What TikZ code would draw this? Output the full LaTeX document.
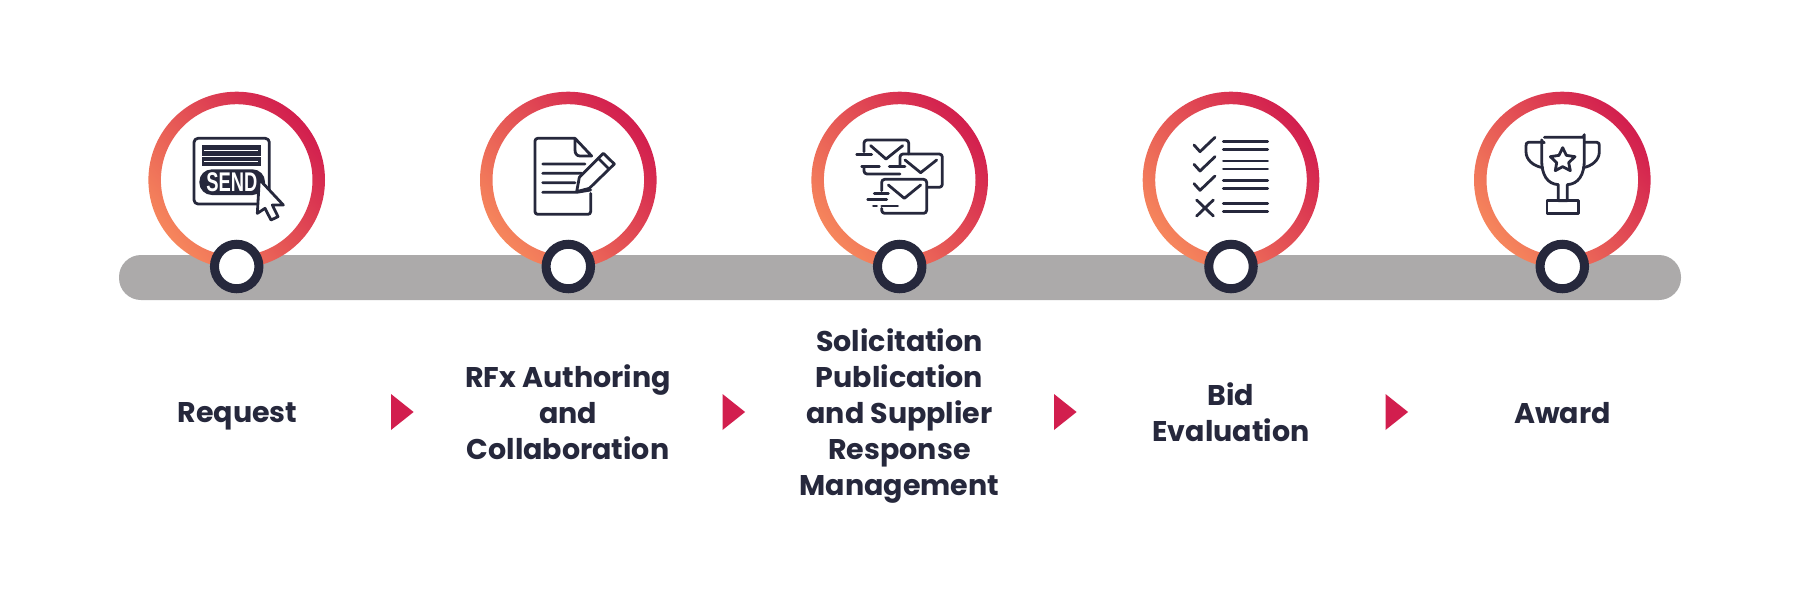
\documentclass[tikz,border=0pt]{standalone}
\usepackage{fontspec}
\usepackage{graphicx}
\setmainfont{Poppins}
\newfontfamily\sendfont{Liberation Sans}
\definecolor{inkc}{HTML}{26283C}
\definecolor{crimsonc}{HTML}{D21E4E}
\definecolor{orangec}{HTML}{F6865C}
\definecolor{barc}{HTML}{ACAAAA}
\tikzset{
  icon/.style={draw=inkc,line width=2.8pt,line join=round,line cap=round,fill=none},
  ringshade/.style={even odd rule,top color=crimsonc,bottom color=orangec,shading angle=-50},
  dotnode/.style={circle,draw=inkc,fill=white,line width=9pt,minimum size=44.5pt,inner sep=0pt},
  lab/.style={font=\bfseries\fontsize{28.5}{36}\selectfont,text=inkc,align=center,inner sep=0pt},
  tri/.style={fill=crimsonc},
  cropcoords/.style={x=0.33333pt,y=-0.33333pt},
}
\begin{document}
\begin{tikzpicture}[x=1pt,y=-1pt]
\useasboundingbox (0,0) rectangle (1800,600);
\fill[white] (0,0) rectangle (1800,600);
% bar
\fill[barc,rounded corners=22pt] (119,255) rectangle (1681,300);
% rings
\foreach \cx in {236.7,568.3,899.7,1231,1562.3}{
  \shade[ringshade] (\cx,180) circle[radius=88.3] circle[radius=75.8];
}
% dots
\node[dotnode] (d1) at (236.7,266.5) {};
\node[dotnode] (d2) at (568.3,266.5) {};
\node[dotnode] (d3) at (899.7,266.5) {};
\node[dotnode] (d4) at (1231,266.5) {};
\node[dotnode] (d5) at (1562.3,266.5) {};
% icon 1
\begin{scope}[shift={(130,80)},cropcoords]
\draw[icon,rounded corners=4pt] (192,175) rectangle (418,372);
\fill[inkc] (215,195) rectangle (393,228);
\fill[inkc] (215,232) rectangle (393,258);
\fill[white] (222,209) rectangle (384,213);
\fill[white] (222,243) rectangle (384,247);
\fill[inkc,rounded corners=12.5pt] (208,268) rectangle (405,345);
\node[text=white,inner sep=0pt] (send) at (306,308) {\sendfont\bfseries\fontsize{27}{27}\selectfont\scalebox{0.68}[1]{SEND}};
\draw[icon,fill=white] (388,298) -- (382,400) -- (405,385) -- (423,420) -- (444,410) -- (427,375) -- (460,375) -- cycle;
\end{scope}
% icon 2
\begin{scope}[shift={(460,80)},cropcoords]
\draw[icon] (392,340) -- (392,395) arc[start angle=0,end angle=90,radius=8] -- (233,403) arc[start angle=90,end angle=180,radius=8] -- (225,183) arc[start angle=180,end angle=270,radius=8] -- (345,175) -- (395,228) -- (360,228) .. controls (350,228) and (345,220) .. (345,210) -- (345,175);
\draw[icon] (248,252) -- (375,252) (248,280) -- (365,280) (248,308) -- (345,308) (248,337) -- (350,337) -- (392,330);
\draw[icon,fill=white] (358,292) -- (430,220) -- (463,252) -- (388,325) -- (350,335) -- cycle;
\draw[icon] (415,235) -- (447,267);
\end{scope}
% icon 3
\begin{scope}[shift={(790,80)},cropcoords]
\draw[icon,rounded corners=3pt] (222,215) -- (222,180) -- (356,180) -- (356,222);
\draw[icon] (200,223) -- (245,223) (215,260) -- (268,260) (298,260) -- (345,260);
\draw[icon,rounded corners=3pt] (222,262) -- (222,282) -- (330,282);
\draw[icon] (242,197) -- (288,237) -- (338,197);
\draw[icon,rounded corners=3pt] (330,255) -- (330,222) -- (457,222) -- (457,322) -- (412,322);
\draw[icon] (345,240) -- (392,278) -- (440,240);
\draw[icon,rounded corners=3pt] (275,332) -- (275,298) -- (410,298) -- (410,400) -- (275,400) -- (275,385);
\draw[icon] (295,315) -- (343,355) -- (392,315);
\draw[icon] (253,340) -- (295,340) (233,358) -- (290,358) (250,378) -- (260,378) (275,378) -- (323,378);
\end{scope}
% icon 4
\begin{scope}[shift={(1120,80)},cropcoords]
\draw[icon] (222,195) -- (240,215) -- (285,172);
\draw[icon] (222,253) -- (240,273) -- (285,230);
\draw[icon] (222,311) -- (240,331) -- (285,288);
\draw[icon] (230,360) -- (280,408) (280,360) -- (230,408);
\foreach \yy in {184,208,243,267,301,325,371,395}{
  \draw[icon] (310,\yy) -- (443,\yy);
}
\end{scope}
% icon 5
\begin{scope}[shift={(1450,80)},cropcoords]
\draw[icon] (283,172) -- (395,172) arc[start angle=90,end angle=0,radius=8] -- (403,240) .. controls (403,285) and (385,312) .. (352,314) -- (352,362) -- (325,362) -- (325,314) .. controls (292,312) and (275,285) .. (275,240) -- (275,180) arc[start angle=180,end angle=90,radius=8];
\draw[icon] (291,362) rectangle (385,400);
\draw[icon] (274,187) -- (235,187) .. controls (229,187) and (228,192) .. (228,198) -- (228,215) .. controls (228,240) and (250,258) .. (278,263);
\draw[icon] (404,187) -- (441,187) .. controls (447,187) and (448,192) .. (448,198) -- (448,215) .. controls (448,240) and (426,258) .. (400,263);
\draw[icon] (338,203) -- (349,226) -- (375,230) -- (356,248) -- (361,272) -- (338,260) -- (316,272) -- (320,248) -- (301,230) -- (327,226) -- cycle;
\end{scope}
% labels
\node[lab] (l1) at (237.5,416) {Request};
\node[lab] (l2) at (568,412) {RFx Authoring\\and\\Collaboration};
\node[lab] (l3) at (899.5,416) {Solicitation\\Publication\\and Supplier\\Response\\Management};
\node[lab] (l4) at (1231,412) {Bid\\Evaluation};
\node[lab] (l5) at (1562.5,413) {Award};
% triangles
\foreach \tx in {391,722.5,1054,1385.5}{
  \fill[tri] (\tx,394) -- (\tx+22.6,412) -- (\tx,430) -- cycle;
}
\end{tikzpicture}
\end{document}
